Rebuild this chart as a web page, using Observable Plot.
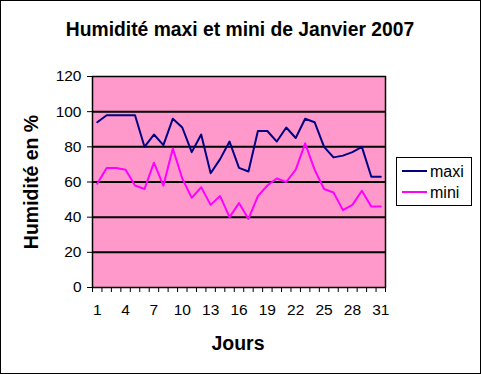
<!DOCTYPE html>
<html><head><meta charset="utf-8">
<script src="https://cdn.jsdelivr.net/npm/d3@7"></script>
<script src="https://cdn.jsdelivr.net/npm/@observablehq/plot@0.6"></script>
<style>
body{margin:0;background:#fff;}
#c{position:relative;width:481px;height:374px;}
svg{font-family:"Liberation Sans",Arial,sans-serif;}
</style></head>
<body><div id="c"></div>
<script>
const days = d3.range(1, 32);
const maxi = [94,98,98,98,98,80,87,81,96,91,77,87,65,73,83,68,66,89,89,83,91,85,96,94,80,74,75,77,80,63,63];
const mini = [59,68,68,67,58,56,71,58,79,62,51,57,47,52,40,48,39,52,58,62,60,67,82,67,56,54,44,47,55,46,46];
const yTicks = [0,20,40,60,80,100,120];
const xLabels = [1,4,7,10,13,16,19,22,25,28,31];
const title = "Humidité maxi et mini de Janvier 2007";
const yTitle = "Humidité en %";
const xTitle = "Jours";
const seriesNames = ["maxi","mini"];
const colors = ["#000080","#FF00FF"];

const data = [];
days.forEach((d,i)=>{data.push({day:d,v:maxi[i],s:"maxi"});data.push({day:d,v:mini[i],s:"mini"});});

const chart = Plot.plot({
  width:481, height:374,
  marginLeft:92, marginRight:96, marginTop:76, marginBottom:87,
  style:{fontFamily:'"Liberation Sans",Arial,sans-serif', fontSize:"13px", color:"#000", background:"#fff"},
  x:{domain:[0.5,31.5]},
  y:{domain:[0,120]},
  color:{domain:seriesNames, range:colors},
  marks:[
    Plot.frame({fill:"#FF99CC"}),
    Plot.ruleY(yTicks.slice(1,-1),{stroke:"#000",strokeWidth:2}),
    Plot.axisY({ticks:yTicks, tickSize:5, tickPadding:6, label:null, fontSize:15.5}),
    Plot.axisX({ticks:d3.range(0.5,32,1), tickSize:5, tickFormat:()=> "", label:null}),
    Plot.axisX({ticks:xLabels, tickSize:0, tickPadding:16, label:null, fontSize:15.5}),
    Plot.line(data,{x:"day",y:"v",z:"s",stroke:"s",strokeWidth:2}),
    Plot.frame({stroke:"#000",strokeWidth:1.5})
  ]
});
document.getElementById("c").appendChild(chart);
const svg = d3.select(chart);
svg.append("rect").attr("x",0.5).attr("y",0.5).attr("width",480).attr("height",373).attr("fill","none").attr("stroke","#000");
svg.append("text").attr("x",240).attr("y",36).attr("text-anchor","middle").attr("font-weight","bold").attr("font-size",19.3).attr("fill","#000").text(title);
svg.append("text").attr("transform","translate(38,182) rotate(-90)").attr("text-anchor","middle").attr("font-weight","bold").attr("font-size",19.5).attr("fill","#000").text(yTitle);
svg.append("text").attr("x",238).attr("y",350).attr("text-anchor","middle").attr("font-weight","bold").attr("font-size",19.5).attr("fill","#000").text(xTitle);
const lg = svg.append("g").attr("text-anchor","start");
lg.append("rect").attr("x",396.5).attr("y",157.5).attr("width",75).attr("height",48).attr("fill","#fff").attr("stroke","#000");
seriesNames.forEach((n,i)=>{
  const y = 171 + i*21;
  lg.append("line").attr("x1",402).attr("x2",427).attr("y1",y).attr("y2",y).attr("stroke",colors[i]).attr("stroke-width",2);
  lg.append("text").attr("x",430).attr("y",y+5.5).attr("text-anchor","start").attr("font-size",16).attr("fill","#000").text(n);
});
</script></body></html>
